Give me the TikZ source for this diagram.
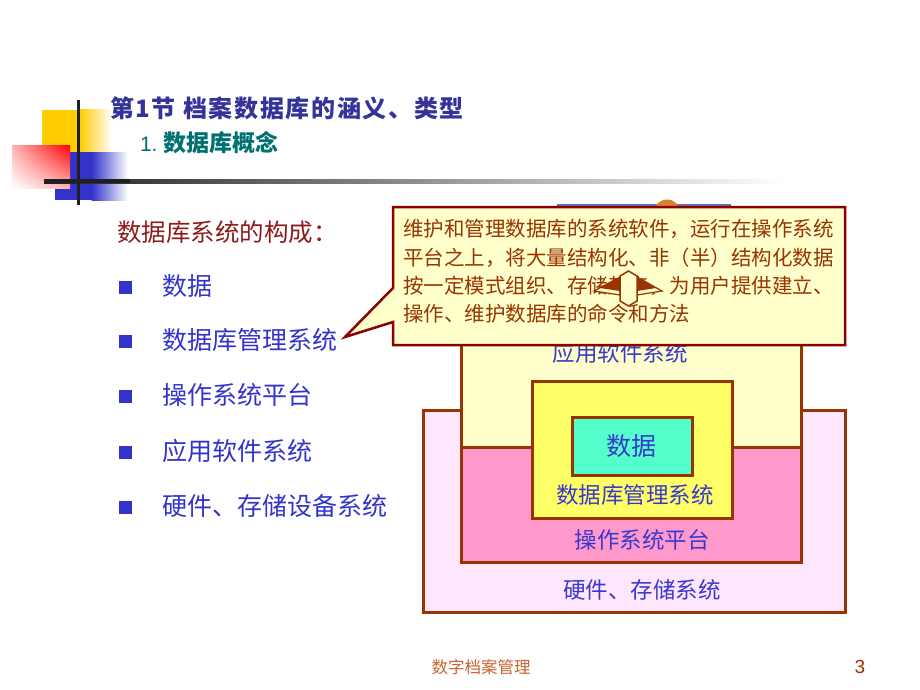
\documentclass[tikz,border=0pt]{standalone}
\usepackage{fontspec}
\usetikzlibrary{shadings}
\setmainfont{Liberation Sans}
\newfontfamily\cjk{Noto Sans CJK SC}
\newfontfamily\cjktitle[LetterSpace=7]{Noto Sans CJK SC}
\definecolor{titleblue}{HTML}{333399}
\definecolor{subteal}{HTML}{007070}
\definecolor{headred}{HTML}{8C1C1C}
\definecolor{listblue}{HTML}{3333CC}
\definecolor{callfill}{HTML}{FFFFCC}
\definecolor{callline}{HTML}{8B0000}
\definecolor{calltext}{HTML}{993300}
\definecolor{boxline}{HTML}{993300}
\definecolor{hwfill}{HTML}{FFE6FF}
\definecolor{appfill}{HTML}{FFFFCC}
\definecolor{osfill}{HTML}{FF99CC}
\definecolor{dbmsfill}{HTML}{FFFF66}
\definecolor{datafill}{HTML}{55FFCC}
\definecolor{boxtext}{HTML}{3838CC}
\definecolor{foot}{HTML}{C8642F}
\definecolor{logoyellow}{HTML}{FFCC00}
\definecolor{logoblue}{HTML}{3333CC}
\definecolor{behindblue}{HTML}{6070B0}
\definecolor{behindorange}{HTML}{D98030}
\tikzset{
  txt/.style={inner sep=0pt, outer sep=0pt},
  listitem/.style={txt, anchor=west, text=listblue, font=\cjk\fontsize{25}{28}\selectfont},
  bulletsq/.style={fill=listblue, draw=none, minimum size=13pt, inner sep=0pt},
  calltxt/.style={txt, anchor=west, text=calltext, font=\cjk\fontsize{20.5}{24}\selectfont},
  layerbox/.style={draw=boxline, line width=3pt},
  layerlabel/.style={txt, text=boxtext, font=\cjk\fontsize{22.5}{26}\selectfont},
}
\begin{document}
\begin{tikzpicture}[x=1pt, y=-1pt]
\useasboundingbox (0,0) rectangle (920,690);
\fill[white] (0,0) rectangle (920,690);

% ---- logo ----
\fill[logoyellow] (42,110) rectangle (80,153);
\shade[left color=logoyellow, right color=white] (79.5,110) rectangle (112,153);
\fill[logoblue] (55,152) rectangle (92,200);
\shade[left color=logoblue, right color=white] (91.5,152) rectangle (128,200);
\shade[upper right=red, upper left=red!30!white, lower right=red!30!white, lower left=white] (12,145) rectangle (70,188);
\shade[left color=black!88, right color=white] (44,179) rectangle (785,183);
\fill[black!88] (44,179) rectangle (130,183);
\fill[black!88] (76.5,100) rectangle (79.5,205);

% ---- titles ----
\node[txt, anchor=west, text=titleblue, font=\cjktitle\bfseries\fontsize{24}{28}\selectfont] (title) at (110,108) {第1节 档案数据库的涵义、类型};
\node[txt, anchor=west, text=subteal, font=\cjk\bfseries\fontsize{23}{26}\selectfont] (subtitle) at (140,143) {\normalfont\fontsize{21}{26}\selectfont 1.\ \cjk\bfseries\fontsize{23}{26}\selectfont 数据库概念};

% ---- list ----
\node[txt, anchor=west, text=headred, font=\cjk\fontsize{24.5}{28}\selectfont] (head) at (117,232) {数据库系统的构成：};
\node[bulletsq] (b1) at (125,287) {};
\node[bulletsq] (b2) at (125,341) {};
\node[bulletsq] (b3) at (125,396) {};
\node[bulletsq] (b4) at (125,452) {};
\node[bulletsq] (b5) at (125,507) {};
\node[listitem] (i1) at (162,286) {数据};
\node[listitem] (i2) at (162,340) {数据库管理系统};
\node[listitem] (i3) at (162,395) {操作系统平台};
\node[listitem] (i4) at (162,451) {应用软件系统};
\node[listitem] (i5) at (162,506) {硬件、存储设备系统};

% ---- layered diagram ----
\draw[layerbox, fill=hwfill] (423,410) rectangle (845,612);
\draw[layerbox, fill=appfill] (461,215) rectangle (801,447);
\draw[layerbox, fill=osfill] (461,447) rectangle (801,562);
\draw[layerbox, fill=dbmsfill] (532,381) rectangle (732,518);
\draw[layerbox, fill=datafill] (572,417) rectangle (692,475);
\node[layerlabel] (lapp) at (620,353) {应用软件系统};
\node[layerlabel, font=\cjk\fontsize{25}{28}\selectfont] (ldata) at (631,446) {数据};
\node[layerlabel] (ldbms) at (635,495) {数据库管理系统};
\node[layerlabel] (los) at (642,540) {操作系统平台};
\node[layerlabel] (lhw) at (642,590) {硬件、存储系统};

% ---- partly hidden shapes behind the callout ----
\draw[behindblue, line width=1.5pt, fill=white] (558,205) rectangle (730,240);
\fill[behindorange] (667,213) circle (13.5);
\fill[black!15] (458,338) rectangle (463,345);

% ---- callout ----
\draw[callline, line width=2.5pt, fill=callfill, line join=miter]
  (393,207) -- (845,207) -- (845,345) -- (393,345) -- (393,322) -- (345,337) -- (393,288) -- cycle;
\coordinate (tip) at (345,337);
\node[calltxt] (c1) at (403,229) {维护和管理数据库的系统软件，运行在操作系统};
\node[calltxt] (c2) at (403,258) {平台之上，将大量结构化、非（半）结构化数据};
\node[calltxt] (c3) at (403,286) {按一定模式组织、存储起来，为用户提供建立、};
\node[calltxt] (c4) at (403,314) {操作、维护数据库的命令和方法};

% ---- double arrow artefact over the callout ----
\draw[boxline, line width=1.2pt, fill=callfill] (620,277) -- (594,291) -- (620,295) -- cycle;
\draw[boxline, line width=1.2pt, fill=callfill] (637,277) -- (662,291) -- (637,295) -- cycle;
\fill[boxline] (620,277) -- (600,288) -- (620,291) -- cycle;
\fill[boxline] (637,277) -- (656,288) -- (637,291) -- cycle;
\draw[boxline, line width=1.5pt, fill=callfill] (628.5,271) -- (637,276) -- (637,301) -- (628.5,306) -- (620,301) -- (620,276) -- cycle;

% ---- footer ----
\node[txt, text=foot, font=\cjk\fontsize{16.5}{20}\selectfont] (footer) at (481,667) {数字档案管理};
\node[txt, text=calltext, font=\fontsize{19}{22}\selectfont] (pagenum) at (860,667) {3};
\end{tikzpicture}
\end{document}
